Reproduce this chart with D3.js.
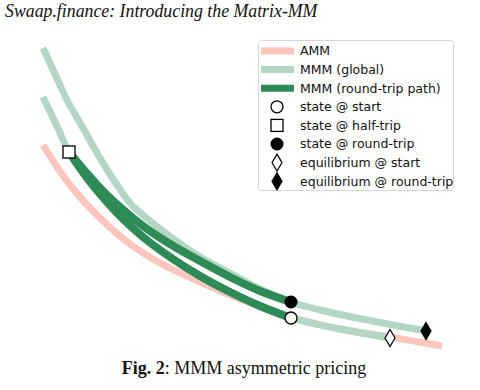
<!DOCTYPE html>
<html><head><meta charset="utf-8">
<script src="https://cdn.jsdelivr.net/npm/d3@7"></script>
<style>body{margin:0;background:#fff;}svg{display:block;}</style>
</head><body>
<script>
// ---- data (reserve units) ----
const ammX = [0.075,0.75,1.5,2.25,3.0,4.0,5.0,6.275,7.5,8.75,10.05];
const ammY = [5.125,4.125,3.3,2.65,2.175,1.7,1.275,0.825,0.525,0.325,0.1];
const mmmStartX = [0.075,0.4,0.725,1.125,1.5,2.0,2.575,3.25,4.0,4.75,5.5,6.275,7.5,8.75];
const mmmStartY = [6.325,5.65,4.95,4.375,3.9,3.35,2.825,2.325,1.85,1.45,1.1,0.8,0.525,0.3];
const mmmEndX = [0.075,0.375,0.675,1.075,1.5,1.875,2.25,2.75,3.375,4.0,4.75,5.5,6.275,7.0,7.925,9.65];
const mmmEndY = [7.55,6.9,6.25,5.55,4.8,4.2,3.675,3.225,2.75,2.325,1.925,1.525,1.2,1.0,0.8,0.475];
const outX = [6.275,5.5,4.75,4.0,3.25,2.575,2.0,1.5,1.125,0.725];
const outY = [0.8,1.1,1.45,1.85,2.325,2.825,3.35,3.9,4.375,4.95];
const backX = [0.725,1.125,1.5,2.0,2.575,3.25,4.0,4.75,5.5,6.275];
const backY = [4.95,4.475,4.05,3.575,3.1,2.65,2.225,1.825,1.475,1.2];
const stateStart = [6.275,0.8];
const stateHalf = [0.725,4.95];
const stateRound = [6.275,1.2];
const eqStart = [8.75,0.3];
const eqRound = [9.65,0.475];
const legendLabels = ["AMM","MMM (global)","MMM (round-trip path)","state @ start","state @ half-trip","state @ round-trip","equilibrium @ start","equilibrium @ round-trip"];

const W=480,H=390;
const svg=d3.select("body").append("svg").attr("width",W).attr("height",H);
const x=d3.scaleLinear().domain([0,10]).range([40,440]);
const y=d3.scaleLinear().domain([0,8]).range([350,30]);

const cPink="#fcc6bd", cLight="#b4d7c3", cDark="#2e8b57";
const line=d3.line().x(d=>x(d[0])).y(d=>y(d[1])).curve(d3.curveCatmullRom);
const zip=(a,b)=>a.map((v,i)=>[v,b[i]]);

const g=svg.append("g");
function path(pts,color,w){g.append("path").attr("d",line(pts)).attr("fill","none").attr("stroke",color).attr("stroke-width",w).attr("stroke-linecap","butt");}
path(zip(ammX,ammY),cPink,7);
path(zip(mmmStartX,mmmStartY),cLight,7);
path(zip(mmmEndX,mmmEndY),cLight,7);
path(zip(outX,outY),cDark,8);
path(zip(backX,backY),cDark,8);

function diamond(cx,cy,fill){
  const w=5,h=8.5;
  g.append("path").attr("d",`M${cx},${cy-h}L${cx+w},${cy}L${cx},${cy+h}L${cx-w},${cy}Z`)
   .attr("fill",fill).attr("stroke","#000").attr("stroke-width",1.2);
}
g.append("rect").attr("x",x(stateHalf[0])-6).attr("y",y(stateHalf[1])-6).attr("width",12).attr("height",12)
 .attr("fill","#fff").attr("stroke","#000").attr("stroke-width",1.3);
g.append("circle").attr("cx",x(stateRound[0])).attr("cy",y(stateRound[1])).attr("r",6.5).attr("fill","#000");
g.append("circle").attr("cx",x(stateStart[0])).attr("cy",y(stateStart[1])).attr("r",6).attr("fill","#fff").attr("stroke","#000").attr("stroke-width",1.3);
diamond(x(eqStart[0]),y(eqStart[1]),"#fff");
diamond(x(eqRound[0]),y(eqRound[1]),"#000");

// legend
const lg=svg.append("g").attr("transform","translate(258,40)");
lg.append("rect").attr("x",0.5).attr("y",0.5).attr("width",195).attr("height",150).attr("rx",3)
  .attr("fill","#fff").attr("stroke","#d6d6d6");
const rowY=i=>11+i*18.6;
legendLabels.forEach((t,i)=>{
  const yy=rowY(i);
  if(i<3){
    lg.append("line").attr("x1",3).attr("x2",36).attr("y1",yy).attr("y2",yy)
      .attr("stroke",[cPink,cLight,cDark][i]).attr("stroke-width",7);
  } else {
    const cx=19;
    if(i===3) lg.append("circle").attr("cx",cx).attr("cy",yy).attr("r",6).attr("fill","#fff").attr("stroke","#000").attr("stroke-width",1.3);
    if(i===4) lg.append("rect").attr("x",cx-6).attr("y",yy-6).attr("width",12).attr("height",12).attr("fill","#fff").attr("stroke","#000").attr("stroke-width",1.3);
    if(i===5) lg.append("circle").attr("cx",cx).attr("cy",yy).attr("r",6.5).attr("fill","#000");
    if(i>=6){
      lg.append("path").attr("d",`M${cx},${yy-8.5}L${cx+5},${yy}L${cx},${yy+8.5}L${cx-5},${yy}Z`)
        .attr("fill",i===6?"#fff":"#000").attr("stroke","#000").attr("stroke-width",1.2);
    }
  }
  lg.append("text").attr("x",42).attr("y",yy).attr("dy","0.35em")
    .attr("font-family","DejaVu Sans").attr("font-size",12.5).attr("fill","#111").text(t);
});

// title & caption
svg.append("text").attr("x",5).attr("y",17).attr("font-family","Liberation Serif").attr("font-style","italic")
  .attr("font-size",17.8).attr("fill","#111").text("Swaap.finance: Introducing the Matrix-MM");
const cap=svg.append("text").attr("x",244).attr("y",374).attr("text-anchor","middle")
  .attr("font-family","Liberation Serif").attr("font-size",18).attr("fill","#111");
cap.append("tspan").attr("font-weight","bold").text("Fig. 2");
cap.append("tspan").text(": MMM asymmetric pricing");
</script>
</body></html>
